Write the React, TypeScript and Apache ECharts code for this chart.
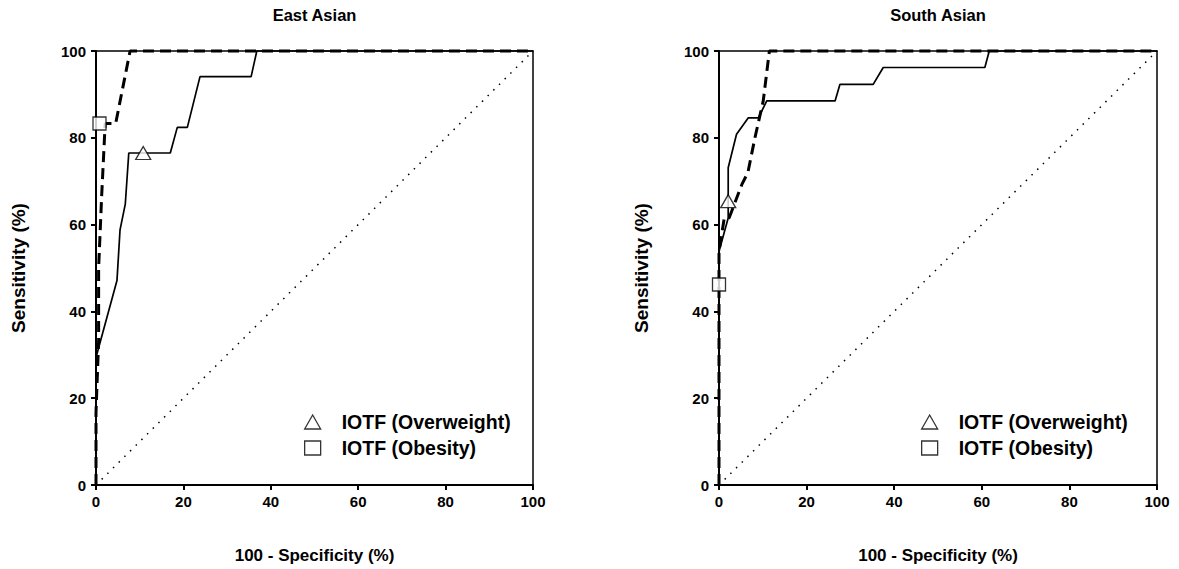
import React, { useEffect, useRef } from "react";
import * as echarts from "echarts";

// ROC curves, points are [100 - specificity, sensitivity] in percent
const eastOverweightRoc: number[][] = [
  [0, 0], [0, 29.4], [4.8, 47.1], [5.5, 58.8], [6.7, 64.7], [7.5, 76.5],
  [17, 76.5], [18.6, 82.4], [20.9, 82.4], [23.8, 94.1], [35.5, 94.1],
  [36.8, 100], [100, 100],
];
const eastObesityRoc: number[][] = [
  [0, 0], [0, 16.7], [0.6, 33.3], [0.6, 50], [1.3, 66.7], [2.1, 83.3],
  [4.5, 83.3], [7.8, 100], [100, 100],
];
const southOverweightRoc: number[][] = [
  [0, 0], [0, 53.8], [2.1, 61.5], [2.1, 73.1], [4, 80.8], [6.7, 84.6],
  [9, 84.6], [10.9, 88.5], [26.5, 88.5], [27.6, 92.3], [35.2, 92.3],
  [37.5, 96.2], [60.7, 96.2], [61.7, 100], [100, 100],
];
const southObesityRoc: number[][] = [
  [0, 0], [0, 46.2], [0, 53.8], [1.2, 61.5], [2.3, 61.5], [5.2, 69.2],
  [6.6, 72], [8.2, 80], [10.1, 88.5], [11.5, 100], [100, 100],
];

// IOTF cut-off points
const eastOverweightCutoff: number[][] = [[10.8, 76.5]];
const eastObesityCutoff: number[][] = [[0.8, 83.3]];
const southOverweightCutoff: number[][] = [[2.1, 65.4]];
const southObesityCutoff: number[][] = [[0, 46.2]];

// Line of no discrimination
const chanceLine: number[][] = [[0, 0], [100, 100]];

const panelTitles = ["East Asian", "South Asian"];
const xAxisTitle = "100 - Specificity (%)";
const yAxisTitle = "Sensitivity (%)";
const legendNames = ["IOTF (Overweight)", "IOTF (Obesity)"];

const FONT = "'Liberation Sans', Arial, Helvetica, sans-serif";
const INK = "#000";

export default function App() {
  const ref = useRef<HTMLDivElement>(null);

  useEffect(() => {
    if (!ref.current) return;
    const chart = echarts.init(ref.current, undefined, { renderer: "svg" });

    const grids = [
      { left: 96, top: 51, width: 437, height: 436 },
      { left: 719, top: 51, width: 438, height: 436 },
    ];

    const xAxes: any[] = [];
    const yAxes: any[] = [];
    grids.forEach((_, g) => {
      xAxes.push({
        type: "value", gridIndex: g, position: "bottom", min: 0, max: 100, interval: 20,
        name: xAxisTitle, nameLocation: "middle", nameGap: 62,
        nameTextStyle: { fontFamily: FONT, fontWeight: "bold", fontSize: 17, color: INK },
        axisLine: { show: true, onZero: false, lineStyle: { color: INK, width: 2 } },
        axisTick: { show: true, inside: false, length: 5, lineStyle: { color: INK, width: 2 } },
        axisLabel: { fontFamily: FONT, fontWeight: "bold", fontSize: 15, color: INK, margin: 9 },
        splitLine: { show: false },
      });
      xAxes.push({
        type: "value", gridIndex: g, position: "top", min: 0, max: 100,
        name: panelTitles[g], nameLocation: "middle", nameGap: 28,
        nameTextStyle: { fontFamily: FONT, fontWeight: "bold", fontSize: 16.5, color: INK },
        axisLine: { show: true, onZero: false, lineStyle: { color: INK, width: 1.5 } },
        axisTick: { show: false }, axisLabel: { show: false }, splitLine: { show: false },
      });
      yAxes.push({
        type: "value", gridIndex: g, position: "left", min: 0, max: 100, interval: 20,
        name: yAxisTitle, nameLocation: "middle", nameGap: 68, nameRotate: 90,
        nameTextStyle: { fontFamily: FONT, fontWeight: "bold", fontSize: 19, color: INK },
        axisLine: { show: true, onZero: false, lineStyle: { color: INK, width: 2 } },
        axisTick: { show: true, inside: false, length: 5, lineStyle: { color: INK, width: 2 } },
        axisLabel: { fontFamily: FONT, fontWeight: "bold", fontSize: 15, color: INK, margin: 10 },
        splitLine: { show: false },
      });
      yAxes.push({
        type: "value", gridIndex: g, position: "right", min: 0, max: 100,
        axisLine: { show: true, onZero: false, lineStyle: { color: INK, width: 1.5 } },
        axisTick: { show: false }, axisLabel: { show: false }, splitLine: { show: false },
      });
    });

    const panels = [
      { ow: eastOverweightRoc, ob: eastObesityRoc, owCut: eastOverweightCutoff, obCut: eastObesityCutoff },
      { ow: southOverweightRoc, ob: southObesityRoc, owCut: southOverweightCutoff, obCut: southObesityCutoff },
    ];

    const markerStyle = { color: "#fff", borderColor: INK, borderWidth: 1.3 };
    const series: any[] = [];
    panels.forEach((p, g) => {
      const axes = { xAxisIndex: g * 2, yAxisIndex: g * 2 };
      series.push({
        type: "line", ...axes, name: "chance", data: chanceLine, showSymbol: false, silent: true,
        lineStyle: { color: INK, width: 1.5, type: [1.5, 6.5] }, z: 1,
      });
      series.push({
        type: "line", ...axes, name: "overweight ROC", data: p.ow, showSymbol: false,
        lineStyle: { color: INK, width: 1.7, type: "solid" }, z: 2, clip: false,
      });
      series.push({
        type: "line", ...axes, name: "obesity ROC", data: p.ob, showSymbol: false,
        lineStyle: { color: INK, width: 3, type: [11, 6] }, z: 3, clip: false,
      });
      series.push({
        type: "scatter", ...axes, name: legendNames[0], data: p.owCut, symbol: "triangle",
        symbolSize: [15, 13], itemStyle: markerStyle, z: 5, clip: false,
      });
      series.push({
        type: "scatter", ...axes, name: legendNames[1], data: p.obCut, symbol: "rect",
        symbolSize: 13, itemStyle: markerStyle, z: 5, clip: false,
      });
    });

    const legendFor = (left: number) => ({
      data: [
        { name: legendNames[0], icon: "triangle" },
        { name: legendNames[1], icon: "rect" },
      ],
      orient: "vertical", left, top: 407, itemWidth: 16, itemHeight: 14, itemGap: 6,
      selectedMode: false,
      itemStyle: markerStyle,
      textStyle: { fontFamily: FONT, fontWeight: "bold", fontSize: 19.5, color: INK, padding: [0, 0, 0, 16] },
    });

    chart.setOption({
      animation: false,
      backgroundColor: "#fff",
      textStyle: { fontFamily: FONT },
      grid: grids,
      xAxis: xAxes,
      yAxis: yAxes,
      legend: [legendFor(299), legendFor(916)],
      series,
    });

    return () => chart.dispose();
  }, []);

  return (
    <div
      ref={ref}
      style={{ position: "fixed", left: 0, top: 0, width: 1179, height: 569, background: "#fff" }}
    />
  );
}
